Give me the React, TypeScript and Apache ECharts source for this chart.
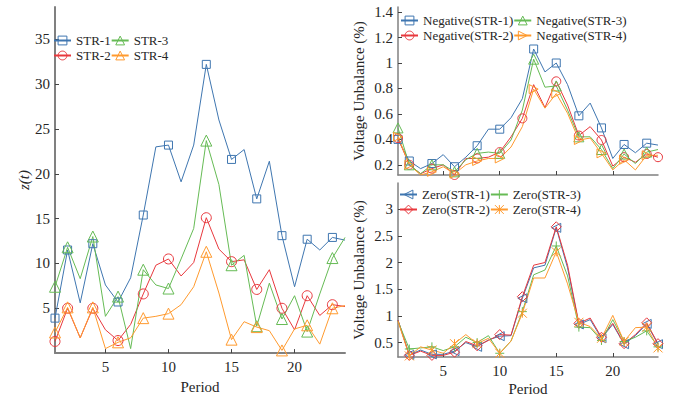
import React, { useEffect, useRef } from "react";
import * as echarts from "echarts";

// ---------- data ----------
const periods = [1, 2, 3, 4, 5, 6, 7, 8, 9, 10, 11, 12, 13, 14, 15, 16, 17, 18, 19, 20, 21, 22, 23, 24];
const xTicks = [5, 10, 15, 20];

// left chart: z(t)
const zStr1 = [3.9, 11.5, 5.6, 12.2, 7.6, 5.7, 8.4, 15.4, 23.0, 23.2, 19.1, 23.2, 32.2, 26.0, 21.6, 22.7, 17.2, 21.4, 13.1, 7.4, 12.7, 11.5, 12.9, 12.6];
const zStr2 = [1.3, 5.0, 1.7, 5.0, 2.6, 1.4, 3.2, 6.6, 9.8, 10.5, 8.6, 10.1, 15.1, 11.6, 10.2, 10.4, 7.1, 9.3, 5.0, 2.6, 6.4, 4.2, 5.4, 5.2];
const zStr3 = [7.4, 11.8, 8.3, 13.0, 4.1, 6.3, 0.5, 9.3, 7.6, 7.2, 10.5, 13.9, 23.7, 18.8, 9.8, 10.9, 3.0, 7.8, 3.8, 6.4, 2.4, 6.6, 10.6, 12.9];
const zStr4 = [2.3, 5.1, 1.7, 5.1, 0.5, 1.2, 1.7, 3.9, 4.1, 4.4, 5.4, 7.4, 11.3, 6.7, 1.5, 3.5, 2.9, 2.5, 0.3, 2.7, 3.1, 1.0, 5.0, 5.3];
const zTicks = [5, 10, 15, 20, 25, 30, 35];
const zMarkers = [1, 2, 4, 6, 8, 10, 13, 15, 17, 19, 21, 23];

// top-right: negative-sequence unbalance (%)
const negStr1 = [0.40, 0.23, 0.17, 0.21, 0.28, 0.185, 0.26, 0.35, 0.48, 0.48, 0.57, 0.72, 1.11, 0.93, 1.0, 0.83, 0.585, 0.685, 0.49, 0.25, 0.36, 0.295, 0.37, 0.355];
const negStr2 = [0.41, 0.20, 0.13, 0.17, 0.20, 0.12, 0.25, 0.25, 0.26, 0.30, 0.42, 0.565, 0.83, 0.65, 0.856, 0.67, 0.43, 0.50, 0.395, 0.19, 0.26, 0.22, 0.285, 0.26];
const negStr3 = [0.49, 0.20, 0.13, 0.20, 0.20, 0.145, 0.24, 0.29, 0.30, 0.29, 0.395, 0.63, 1.03, 0.81, 0.82, 0.63, 0.42, 0.42, 0.32, 0.17, 0.285, 0.21, 0.30, 0.32];
const negStr4 = [0.42, 0.20, 0.12, 0.145, 0.185, 0.13, 0.20, 0.23, 0.25, 0.25, 0.34, 0.50, 0.795, 0.645, 0.76, 0.605, 0.395, 0.41, 0.29, 0.16, 0.24, 0.16, 0.275, 0.275];
const negTicks = [0.2, 0.4, 0.6, 0.8, 1, 1.2, 1.4];
const negMarkers = [1, 2, 4, 6, 8, 10, 13, 15, 17, 19, 21, 23];
const negMarkersStr2 = [1, 2, 4, 6, 8, 10, 12, 15, 17, 19, 21, 23, 24];

// bottom-right: zero-sequence unbalance (%)
const zeroStr1 = [0.92, 0.27, 0.36, 0.28, 0.28, 0.34, 0.50, 0.42, 0.55, 0.62, 0.63, 1.33, 1.90, 1.95, 2.65, 1.90, 0.84, 0.93, 0.58, 0.84, 0.47, 0.63, 0.85, 0.47];
const zeroStr2 = [0.92, 0.26, 0.34, 0.26, 0.26, 0.32, 0.52, 0.44, 0.54, 0.65, 0.64, 1.36, 1.95, 2.00, 2.67, 1.95, 0.86, 0.96, 0.60, 0.86, 0.48, 0.65, 0.87, 0.48];
const zeroStr3 = [0.90, 0.38, 0.40, 0.42, 0.35, 0.42, 0.60, 0.50, 0.63, 0.30, 0.53, 1.08, 1.77, 1.86, 2.31, 1.75, 0.79, 0.78, 0.54, 0.93, 0.52, 0.60, 0.72, 0.42];
const zeroStr4 = [0.90, 0.25, 0.42, 0.36, 0.30, 0.48, 0.65, 0.48, 0.58, 0.30, 0.53, 1.05, 1.71, 1.71, 2.20, 1.60, 0.88, 0.80, 0.58, 1.01, 0.52, 0.78, 0.79, 0.40];
const zeroTicks = [0.5, 1, 1.5, 2, 2.5, 3];
const zeroMarkers = [2, 4, 6, 8, 10, 12, 15, 17, 19, 21, 23, 24];

// ---------- styles ----------
const BLUE = "#3f76b0";
const RED = "#e8383d";
const GREEN = "#66bb55";
const ORANGE = "#ff9a2e";
const FONT = "Liberation Serif";
const TXT = "#262626";
const AXIS = "#808080";
const CLEAR = "rgba(255,255,255,0)";

const RIGHT_TRI = "path://M0,0 L10,5 L0,10 Z";
const LEFT_TRI = "path://M10,0 L0,5 L10,10 Z";
const PLUS = "path://M5,0 L5,10 M0,5 L10,5";
const STAR = "path://M0,0 L10,10 M10,0 L0,10 M5,0 L5,10";

function mkSeries(
  name: string,
  values: number[],
  color: string,
  symbol: string,
  size: number,
  markers: number[],
  idx: number
) {
  return {
    type: "line",
    name,
    xAxisIndex: idx,
    yAxisIndex: idx,
    color,
    symbol,
    symbolSize: size,
    showAllSymbol: true,
    data: values.map((v, i) => ({
      value: [periods[i], v],
      symbol: markers.includes(periods[i]) ? symbol : "none",
    })),
    lineStyle: { color, width: 1 },
    itemStyle: { color: CLEAR, borderColor: color, borderWidth: 1 },
    emphasis: { disabled: true },
    silent: true,
  };
}

function mkX(idx: number, showLabel: boolean, name: string) {
  return {
    type: "value",
    gridIndex: idx,
    min: 1,
    max: 24,
    name,
    nameLocation: "middle",
    nameGap: 24,
    nameTextStyle: { fontFamily: FONT, fontSize: 15, color: TXT },
    axisLine: { show: true, lineStyle: { color: AXIS, width: idx === 0 ? 2 : 1.5 } },
    axisTick: { show: true, inside: true, length: 4, customValues: xTicks, lineStyle: { color: "#444" } },
    axisLabel: {
      show: showLabel,
      customValues: xTicks,
      margin: 6,
      fontFamily: FONT,
      fontSize: 15,
      color: TXT,
    },
    splitLine: { show: false },
  };
}

function mkY(idx: number, min: number, max: number, ticks: number[], name: string, italic: boolean, gap: number) {
  return {
    type: "value",
    gridIndex: idx,
    min,
    max,
    name,
    nameLocation: "middle",
    nameGap: gap,
    nameTextStyle: { fontFamily: FONT, fontSize: 15, color: TXT, fontStyle: italic ? "italic" : "normal" },
    axisLine: { show: true, lineStyle: { color: AXIS, width: idx === 0 ? 2 : 1.5 } },
    axisTick: { show: true, inside: true, length: 4, customValues: ticks, lineStyle: { color: "#444" } },
    axisLabel: {
      customValues: ticks,
      margin: 5,
      fontFamily: FONT,
      fontSize: 15,
      color: TXT,
      formatter: (v: number) => String(+Number(v).toFixed(2)),
    },
    splitLine: { show: false },
  };
}

function mkLegend(names: string[], left: number, top: number) {
  return {
    data: names,
    left,
    top,
    orient: "horizontal",
    itemWidth: 17,
    itemHeight: 11,
    itemGap: 0,
    padding: 0,
    selectedMode: false,
    itemStyle: { color: CLEAR, borderWidth: 1 },
    textStyle: { fontFamily: FONT, fontSize: 13, color: TXT },
  };
}

export default function App() {
  const ref = useRef<HTMLDivElement>(null);
  useEffect(() => {
    if (!ref.current) return;
    const chart = echarts.init(ref.current, undefined, { renderer: "svg" });
    const option = {
      animation: false,
      backgroundColor: "#ffffff",
      grid: [
        { left: 55, top: 7, width: 290, height: 350 },
        { left: 398, top: 7, width: 260, height: 168 },
        { left: 398, top: 183, width: 260, height: 174 },
      ],
      xAxis: [mkX(0, true, "Period"), mkX(1, false, ""), mkX(2, true, "Period")],
      yAxis: [
        mkY(0, 0, 38.6, zTicks, "z(t)", true, 22),
        mkY(1, 0.12, 1.44, negTicks, "Voltage Unbalance (%)", false, 32),
        mkY(2, 0.23, 3.49, zeroTicks, "Voltage Unbalance (%)", false, 32),
      ],
      legend: [
        mkLegend(["STR-1", "STR-3"], 53, 34),
        mkLegend(["STR-2", "STR-4"], 53, 49),
        mkLegend(["Negative(STR-1)", "Negative(STR-3)"], 400, 14),
        mkLegend(["Negative(STR-2)", "Negative(STR-4)"], 400, 29),
        mkLegend(["Zero(STR-1)", "Zero(STR-3)"], 399, 188),
        mkLegend(["Zero(STR-2)", "Zero(STR-4)"], 399, 203),
      ],
      series: [
        mkSeries("STR-1", zStr1, BLUE, "rect", 8, zMarkers, 0),
        mkSeries("STR-2", zStr2, RED, "circle", 10, zMarkers, 0),
        mkSeries("STR-3", zStr3, GREEN, "triangle", 11, zMarkers, 0),
        mkSeries("STR-4", zStr4, ORANGE, "triangle", 11, zMarkers, 0),
        mkSeries("Negative(STR-1)", negStr1, BLUE, "rect", 8, negMarkers, 1),
        mkSeries("Negative(STR-2)", negStr2, RED, "circle", 9, negMarkersStr2, 1),
        mkSeries("Negative(STR-3)", negStr3, GREEN, "triangle", 10, negMarkers, 1),
        mkSeries("Negative(STR-4)", negStr4, ORANGE, RIGHT_TRI, 9, negMarkers, 1),
        mkSeries("Zero(STR-1)", zeroStr1, BLUE, LEFT_TRI, 9, zeroMarkers, 2),
        mkSeries("Zero(STR-2)", zeroStr2, RED, "diamond", 10, zeroMarkers, 2),
        mkSeries("Zero(STR-3)", zeroStr3, GREEN, PLUS, 9, zeroMarkers, 2),
        mkSeries("Zero(STR-4)", zeroStr4, ORANGE, STAR, 9, zeroMarkers, 2),
      ],
    };
    chart.setOption(option as any);
    return () => chart.dispose();
  }, []);
  return (
    <div
      ref={ref}
      style={{ position: "fixed", left: 0, top: 0, width: 686, height: 399, background: "#fff" }}
    />
  );
}
